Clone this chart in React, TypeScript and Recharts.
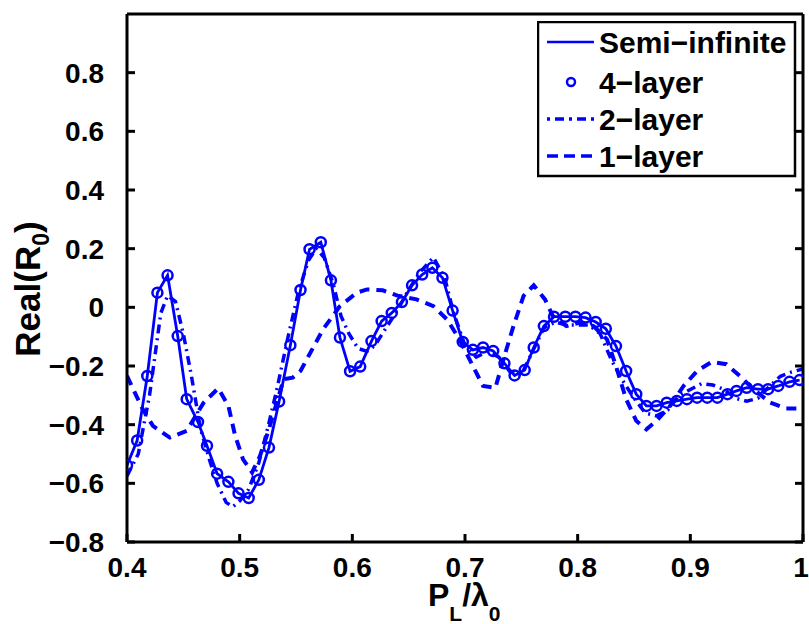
import React from 'react';
import { LineChart, Line, XAxis, YAxis, Legend } from 'recharts';

// P_L / lambda_0 sample positions of the 4-layer markers / semi-infinite line
const plGrid = [0.400,0.409,0.418,0.427,0.436,0.445,0.453,0.463,0.471,0.480,0.490,0.499,0.508,0.517,0.526,0.535,0.545,0.554,0.562,0.572,0.581,0.589,0.598,0.607,0.617,0.626,0.635,0.644,0.653,0.662,0.671,0.680,0.689,0.698,0.707,0.716,0.725,0.735,0.744,0.753,0.761,0.770,0.779,0.789,0.798,0.807,0.816,0.825,0.834,0.843,0.852,0.861,0.870,0.879,0.888,0.897,0.906,0.915,0.924,0.933,0.941,0.950,0.960,0.969,0.978,0.988,0.997];

const semiInfinite = [-0.538,-0.454,-0.234,0.050,0.109,-0.098,-0.313,-0.391,-0.472,-0.567,-0.595,-0.634,-0.650,-0.588,-0.478,-0.321,-0.129,0.059,0.198,0.222,0.092,-0.103,-0.218,-0.202,-0.115,-0.047,-0.019,0.018,0.075,0.112,0.135,0.101,-0.011,-0.118,-0.145,-0.137,-0.149,-0.191,-0.232,-0.214,-0.137,-0.064,-0.032,-0.032,-0.032,-0.035,-0.050,-0.073,-0.132,-0.217,-0.296,-0.336,-0.336,-0.325,-0.319,-0.313,-0.308,-0.308,-0.308,-0.296,-0.285,-0.274,-0.279,-0.279,-0.268,-0.254,-0.248];

const fourLayer = [-0.538,-0.454,-0.234,0.050,0.109,-0.098,-0.313,-0.391,-0.472,-0.567,-0.595,-0.634,-0.650,-0.588,-0.478,-0.321,-0.129,0.059,0.198,0.222,0.092,-0.103,-0.218,-0.202,-0.115,-0.047,-0.019,0.018,0.075,0.112,0.135,0.101,-0.011,-0.118,-0.145,-0.137,-0.149,-0.191,-0.232,-0.214,-0.137,-0.064,-0.032,-0.032,-0.032,-0.035,-0.050,-0.073,-0.132,-0.217,-0.296,-0.336,-0.336,-0.325,-0.319,-0.313,-0.308,-0.308,-0.308,-0.296,-0.285,-0.274,-0.279,-0.279,-0.268,-0.254,-0.248];

const plTwo = [0.400,0.410,0.420,0.430,0.436,0.443,0.450,0.457,0.465,0.474,0.480,0.488,0.494,0.500,0.508,0.517,0.525,0.533,0.543,0.552,0.561,0.568,0.575,0.583,0.590,0.597,0.605,0.613,0.620,0.630,0.640,0.650,0.660,0.672,0.682,0.690,0.700,0.710,0.720,0.730,0.740,0.750,0.760,0.770,0.780,0.790,0.800,0.810,0.820,0.830,0.840,0.850,0.860,0.870,0.880,0.890,0.900,0.910,0.920,0.930,0.940,0.950,0.960,0.970,0.980,0.990,1.000];
const twoLayer = [-0.575,-0.500,-0.300,-0.020,0.040,0.020,-0.090,-0.230,-0.410,-0.530,-0.600,-0.665,-0.680,-0.660,-0.620,-0.530,-0.410,-0.280,-0.100,0.050,0.160,0.200,0.170,0.080,-0.030,-0.090,-0.140,-0.150,-0.130,-0.070,-0.010,0.060,0.120,0.170,0.100,-0.020,-0.130,-0.170,-0.150,-0.170,-0.220,-0.230,-0.150,-0.070,-0.050,-0.060,-0.060,-0.060,-0.090,-0.180,-0.250,-0.310,-0.360,-0.370,-0.350,-0.300,-0.280,-0.260,-0.265,-0.280,-0.310,-0.320,-0.310,-0.270,-0.235,-0.220,-0.210];

const plOne = [0.400,0.414,0.423,0.438,0.453,0.468,0.481,0.490,0.496,0.503,0.511,0.518,0.525,0.533,0.539,0.547,0.554,0.562,0.574,0.589,0.604,0.613,0.627,0.640,0.657,0.672,0.684,0.695,0.707,0.716,0.727,0.735,0.743,0.752,0.761,0.771,0.778,0.790,0.802,0.814,0.826,0.834,0.843,0.852,0.861,0.870,0.882,0.894,0.906,0.919,0.932,0.944,0.956,0.971,0.985,1.000];
const oneLayer = [-0.234,-0.348,-0.404,-0.444,-0.421,-0.325,-0.276,-0.336,-0.438,-0.518,-0.563,-0.507,-0.427,-0.325,-0.245,-0.240,-0.217,-0.160,-0.075,0.004,0.050,0.061,0.058,0.040,0.027,0.004,-0.041,-0.109,-0.200,-0.268,-0.274,-0.166,-0.064,0.039,0.075,0.027,-0.030,-0.064,-0.052,-0.064,-0.109,-0.200,-0.313,-0.387,-0.416,-0.387,-0.336,-0.268,-0.217,-0.186,-0.194,-0.234,-0.279,-0.325,-0.345,-0.345];

const xTicks = [0.4, 0.5, 0.6, 0.7, 0.8, 0.9, 1.0];
const yTicks = [-0.8, -0.6, -0.4, -0.2, 0, 0.2, 0.4, 0.6, 0.8];

const seriesNames = ['Semi\u2212infinite', '4\u2212layer', '2\u2212layer', '1\u2212layer'];

const semiData = plGrid.map((x, i) => ({ x, y: semiInfinite[i] }));
const fourData = plGrid.map((x, i) => ({ x, y: fourLayer[i] }));
const twoData = plTwo.map((x, i) => ({ x, y: twoLayer[i] }));
const oneData = plOne.map((x, i) => ({ x, y: oneLayer[i] }));

const FONT = 'Liberation Sans, Arial, Helvetica, sans-serif';
const BLUE = '#0000ff';
const AXIS_LINE = { stroke: '#000', strokeWidth: 3 };
const TICK_LINE = { stroke: '#000', strokeWidth: 3 };

const fmtX = (v: number) => (Math.abs(v - 1) < 1e-9 ? '1' : v.toFixed(1));
const fmtY = (v: number) => {
  if (Math.abs(v) < 1e-9) return '0';
  return v < 0 ? '\u2212' + Math.abs(v).toFixed(1) : v.toFixed(1);
};

const BottomTick = (props: any) => {
  const { x, y, payload } = props;
  const last = Math.abs(payload.value - 1) < 1e-9;
  return (
    <text x={last ? x - 2 : x} y={y + 35} textAnchor="middle" fontSize={28} fontWeight="bold" fontFamily={FONT} fill="#000">
      {fmtX(payload.value)}
    </text>
  );
};
const LeftTick = (props: any) => {
  const { x, y, payload } = props;
  return (
    <text x={x - 23} y={y + 10} textAnchor="end" fontSize={28} fontWeight="bold" fontFamily={FONT} fill="#000">
      {fmtY(payload.value)}
    </text>
  );
};
const NoLabel = () => <g />;

const XLabel = () => (
  <text x={428} y={606} fontSize={32} fontWeight="bold" fontFamily={FONT} fill="#000">
    <tspan>P</tspan>
    <tspan dy={15} fontSize={21}>L</tspan>
    <tspan dy={-15} fontSize={32}>/λ</tspan>
    <tspan dy={15} fontSize={21}>0</tspan>
  </text>
);

const YLabel = () => (
  <text
    x={0}
    y={0}
    transform="translate(40,289) rotate(-90)"
    textAnchor="middle"
    fontSize={35}
    fontWeight="bold"
    fontFamily={FONT}
    fill="#000"
  >
    <tspan>Real(R</tspan>
    <tspan dy={9} fontSize={23}>0</tspan>
    <tspan dy={-9} fontSize={35}>)</tspan>
  </text>
);

const LegendBox = () => {
  const rows = [21, 61, 98, 135];
  return (
    <svg width={260} height={157} style={{ display: 'block' }}>
      <rect x={1} y={1} width={257} height={154} fill="#fff" stroke="#000" strokeWidth={2.5} />
      <line x1={10} x2={57} y1={rows[0]} y2={rows[0]} stroke={BLUE} strokeWidth={2.5} />
      <circle cx={34} cy={rows[1]} r={4} fill="none" stroke={BLUE} strokeWidth={2.5} />
      <line x1={10} x2={57} y1={rows[2]} y2={rows[2]} stroke={BLUE} strokeWidth={3.5} strokeDasharray="3 5 9 5" />
      <line x1={10} x2={57} y1={rows[3]} y2={rows[3]} stroke={BLUE} strokeWidth={3.5} strokeDasharray="11 6" />
      {seriesNames.map((n, i) => (
        <text key={n} x={62} y={rows[i] + 11} fontSize={30} fontWeight="bold" fontFamily={FONT} fill="#000">
          {n}
        </text>
      ))}
    </svg>
  );
};

export default function App() {
  return (
    <div style={{ position: 'absolute', left: 0, top: 0, width: 809, height: 624, background: '#fff' }}>
      <LineChart width={809} height={624} margin={{ top: 13, right: 5, bottom: 42, left: 67 }}>
        <XAxis
          dataKey="x"
          type="number"
          domain={[0.4, 1]}
          ticks={xTicks}
          interval={0}
          allowDataOverflow
          height={40}
          tickSize={-8}
          tickMargin={8}
          tickLine={TICK_LINE}
          axisLine={AXIS_LINE}
          tick={<BottomTick />}
          label={<XLabel />}
        />
        <XAxis
          xAxisId="top"
          orientation="top"
          type="number"
          domain={[0.4, 1]}
          ticks={xTicks}
          interval={0}
          allowDataOverflow
          height={1}
          tickSize={-8}
          tickMargin={0}
          tickLine={TICK_LINE}
          axisLine={AXIS_LINE}
          tick={<NoLabel />}
        />
        <YAxis
          type="number"
          domain={[-0.8, 1.0]}
          ticks={yTicks}
          interval={0}
          allowDataOverflow
          width={60}
          tickSize={-8}
          tickMargin={8}
          tickLine={TICK_LINE}
          axisLine={AXIS_LINE}
          tick={<LeftTick />}
          label={<YLabel />}
        />
        <YAxis
          yAxisId="right"
          orientation="right"
          type="number"
          domain={[-0.8, 1.0]}
          ticks={yTicks}
          interval={0}
          allowDataOverflow
          width={1}
          tickSize={-8}
          tickMargin={0}
          tickLine={TICK_LINE}
          axisLine={AXIS_LINE}
          tick={<NoLabel />}
        />
        <Line
          data={semiData}
          dataKey="y"
          name={seriesNames[0]}
          stroke={BLUE}
          strokeWidth={2.8}
          dot={false}
          isAnimationActive={false}
        />
        <Line
          data={fourData}
          dataKey="y"
          name={seriesNames[1]}
          stroke="none"
          dot={{ r: 5, stroke: BLUE, strokeWidth: 2.5, fill: 'none' }}
          isAnimationActive={false}
        />
        <Line
          data={twoData}
          dataKey="y"
          name={seriesNames[2]}
          stroke={BLUE}
          strokeWidth={3.5}
          strokeDasharray="9 5 2 5"
          dot={false}
          isAnimationActive={false}
        />
        <Line
          data={oneData}
          dataKey="y"
          name={seriesNames[3]}
          stroke={BLUE}
          strokeWidth={4}
          strokeDasharray="10 7"
          dot={false}
          isAnimationActive={false}
        />
        <Legend
          layout="vertical"
          align="center"
          verticalAlign="middle"
          wrapperStyle={{ left: 537, top: 21, width: 260, height: 157 }}
          content={() => <LegendBox />}
        />
      </LineChart>
    </div>
  );
}
